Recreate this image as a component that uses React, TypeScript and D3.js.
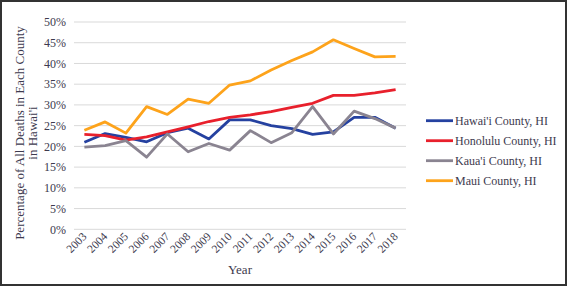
import React from "react";
import * as d3 from "d3";

const years = ["2003","2004","2005","2006","2007","2008","2009","2010","2011","2012","2013","2014","2015","2016","2017","2018"];
const hawaii = [21.0,23.1,22.2,21.1,23.3,24.4,21.8,26.4,26.4,25.0,24.3,22.9,23.5,27.0,27.0,24.4];
const honolulu = [22.9,22.6,21.5,22.3,23.5,24.7,26.0,27.0,27.6,28.4,29.4,30.4,32.3,32.3,32.9,33.7];
const kauai = [19.8,20.2,21.4,17.4,23.0,18.7,20.7,19.1,23.8,20.9,23.3,29.6,23.0,28.5,26.7,24.4];
const maui = [23.9,25.9,23.2,29.6,27.7,31.4,30.4,34.8,35.8,38.4,40.7,42.8,45.7,43.6,41.6,41.7];
const yTicks = [0,5,10,15,20,25,30,35,40,45,50];

const series = [
  { name: "Hawai'i County, HI", values: hawaii, color: "#2541a0" },
  { name: "Honolulu County, HI", values: honolulu, color: "#e8202c" },
  { name: "Kaua'i County, HI", values: kauai, color: "#8a8491" },
  { name: "Maui County, HI", values: maui, color: "#fda31b" },
];

const W = 568, H = 287;
const left = 74, right = 406, top = 22, bottom = 229.3;
const textColor = "#3d3a4e";
const font = "Liberation Serif";

export default function App() {
  const x = d3.scaleBand().domain(years).range([left, right]);
  const y = d3.scaleLinear().domain([0, 50]).range([bottom, top]);
  const line = d3.line<number>().x((_, i) => (x(years[i]) as number) + x.bandwidth() / 2).y(d => y(d));
  return (
    <svg width={W} height={H} style={{ position: "absolute", left: 0, top: 0, background: "#fff", fontFamily: font }}>
      <rect x={1} y={1} width={W - 3} height={H - 3} fill="#fff" stroke="#333" strokeWidth={2} />
      {yTicks.map(t => (
        <g key={t}>
          <line x1={left} x2={right} y1={y(t)} y2={y(t)} stroke="#d9d9d9" strokeWidth={1} />
          <text x={66} y={y(t)} dy="0.35em" textAnchor="end" fontSize={12} fill={textColor} style={{ fontFamily: font }}>{t}%</text>
        </g>
      ))}
      {years.map(yr => {
        const cx = (x(yr) as number) + x.bandwidth() / 2;
        return (
          <text key={yr} transform={`translate(${cx + 3},${bottom + 8}) rotate(-45)`} textAnchor="end" fontSize={11.5} fill={textColor} style={{ fontFamily: font }}>{yr}</text>
        );
      })}
      <text x={(left + right) / 2} y={274} textAnchor="middle" fontSize={13} fill={textColor} style={{ fontFamily: font }}>Year</text>
      <text transform={`translate(24,133) rotate(-90)`} textAnchor="middle" fontSize={13} fill={textColor} style={{ fontFamily: font }}>
        <tspan x={0} dy={0}>Percentage of All Deaths in Each County</tspan>
        <tspan x={0} dy={13}>in Hawai'i</tspan>
      </text>
      {series.map(s => (
        <path key={s.name} d={line(s.values) || ""} fill="none" stroke={s.color} strokeWidth={2.8} strokeLinejoin="round" />
      ))}
      {series.map((s, i) => (
        <g key={s.name} transform={`translate(426,${120.7 + i * 20})`}>
          <line x1={0} x2={27} y1={0} y2={0} stroke={s.color} strokeWidth={2.8} />
          <text x={29} y={0} dy="0.35em" fontSize={12} fill={textColor} style={{ fontFamily: font }}>{s.name}</text>
        </g>
      ))}
    </svg>
  );
}
